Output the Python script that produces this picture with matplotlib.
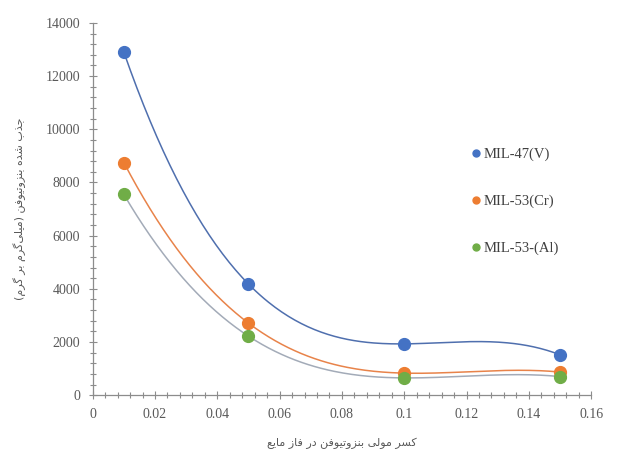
import numpy as np
import matplotlib
matplotlib.use('Agg')
import matplotlib.pyplot as plt
from matplotlib.lines import Line2D
from matplotlib.ticker import MultipleLocator

# data
x = [0.01, 0.05, 0.1, 0.15]
mil47_v = [12900, 4180, 1930, 1520]
mil53_cr = [8750, 2710, 830, 870]
mil53_al = [7550, 2220, 650, 700]
names = ['MIL-47(V)', 'MIL-53(Cr)', 'MIL-53-(Al)']
xticks = ['0', '0.02', '0.04', '0.06', '0.08', '0.1', '0.12', '0.14', '0.16']

x_label = 'کسر مولی بنزوتیوفن در فاز مایع'
y_label = 'جذب شده بنزوتیوفن (میلی\u200cگرم بر گرم)'

# matplotlib has no arabic shaping -> presentation forms by hand
forms = {
    'ا': ('\uFE8D', '\uFE8E'), 'د': ('\uFEA9', '\uFEAA'), 'ذ': ('\uFEAB', '\uFEAC'),
    'ر': ('\uFEAD', '\uFEAE'), 'ز': ('\uFEAF', '\uFEB0'), 'و': ('\uFEED', '\uFEEE'),
    'ب': ('\uFE8F', '\uFE90', '\uFE91', '\uFE92'), 'ت': ('\uFE95', '\uFE96', '\uFE97', '\uFE98'),
    'ج': ('\uFE9D', '\uFE9E', '\uFE9F', '\uFEA0'), 'س': ('\uFEB1', '\uFEB2', '\uFEB3', '\uFEB4'),
    'ش': ('\uFEB5', '\uFEB6', '\uFEB7', '\uFEB8'), 'ع': ('\uFEC9', '\uFECA', '\uFECB', '\uFECC'),
    'ف': ('\uFED1', '\uFED2', '\uFED3', '\uFED4'), 'ق': ('\uFED5', '\uFED6', '\uFED7', '\uFED8'),
    'ل': ('\uFEDD', '\uFEDE', '\uFEDF', '\uFEE0'), 'م': ('\uFEE1', '\uFEE2', '\uFEE3', '\uFEE4'),
    'ن': ('\uFEE5', '\uFEE6', '\uFEE7', '\uFEE8'), 'ه': ('\uFEE9', '\uFEEA', '\uFEEB', '\uFEEC'),
    'ی': ('\uFBFC', '\uFBFD', '\uFBFE', '\uFBFF'), 'ک': ('\uFB8E', '\uFB8F', '\uFB90', '\uFB91'),
    'گ': ('\uFB92', '\uFB93', '\uFB94', '\uFB95'),
}


def shape(s):
    out = []
    for i, c in enumerate(s):
        if c not in forms:
            if c != '\u200c':
                out.append({'(': ')', ')': '('}.get(c, c))
            continue
        prev = s[i - 1] if i > 0 else ''
        nxt = s[i + 1] if i + 1 < len(s) else ''
        join_prev = prev in forms and len(forms[prev]) == 4
        join_next = nxt in forms and len(forms[c]) == 4
        f = forms[c]
        if join_prev and join_next:
            out.append(f[3])
        elif join_prev:
            out.append(f[1])
        elif join_next:
            out.append(f[2])
        else:
            out.append(f[0])
    return ''.join(out[::-1])


fig = plt.figure(figsize=(6.35, 4.59), dpi=100)
ax = fig.add_axes([0.146, 0.139, 0.785, 0.811])

series = [mil47_v, mil53_cr, mil53_al]
mcolors = ['#4472C4', '#ED7D31', '#70AD47']
lcolors = ['#4f6fae', '#e8834a', '#a3abb8']
xs = np.linspace(x[0], x[-1], 200)
for ys, mc, lc in zip(series, mcolors, lcolors):
    # polynomial trendline, order 3
    p = np.polyfit(x, ys, 3)
    ax.plot(xs, np.polyval(p, xs), color=lc, lw=1.1, zorder=2)
    ax.plot(x, ys, 'o', color=mc, ms=8.5, zorder=3)

ax.set_xlim(0, 0.16)
ax.set_ylim(0, 14000)
ax.set_xticks(np.arange(0, 0.161, 0.02))
ax.set_xticklabels(xticks)
ax.xaxis.set_minor_locator(MultipleLocator(0.004))
ax.yaxis.set_major_locator(MultipleLocator(2000))
ax.yaxis.set_minor_locator(MultipleLocator(400))

for s in ['top', 'right']:
    ax.spines[s].set_visible(False)
for s in ['left', 'bottom']:
    ax.spines[s].set_color('#8c8c8c')
    ax.spines[s].set_linewidth(0.9)
ax.tick_params(which='both', direction='inout', color='#8c8c8c', width=0.8,
               labelsize=10, labelcolor='#595959')
ax.tick_params(which='major', length=6, pad=6)
ax.tick_params(which='minor', length=4)
for lab in ax.get_xticklabels() + ax.get_yticklabels():
    lab.set_family('Liberation Serif')

ax.set_xlabel(shape(x_label), fontsize=8, color='#595959', family='DejaVu Sans', labelpad=12)
ax.set_ylabel(shape(y_label), fontsize=8, color='#595959', family='DejaVu Sans', labelpad=14)

handles = [Line2D([], [], ls='', marker='o', color=c, ms=5) for c in mcolors]
ax.legend(handles, names, loc='upper left', bbox_to_anchor=(0.728, 0.70), frameon=False,
          labelspacing=2.3, handletextpad=0.0, handlelength=1.0,
          prop={'family': 'Liberation Serif', 'size': 10.5},
          labelcolor='#404040')

fig.savefig('out.png', dpi=100)
